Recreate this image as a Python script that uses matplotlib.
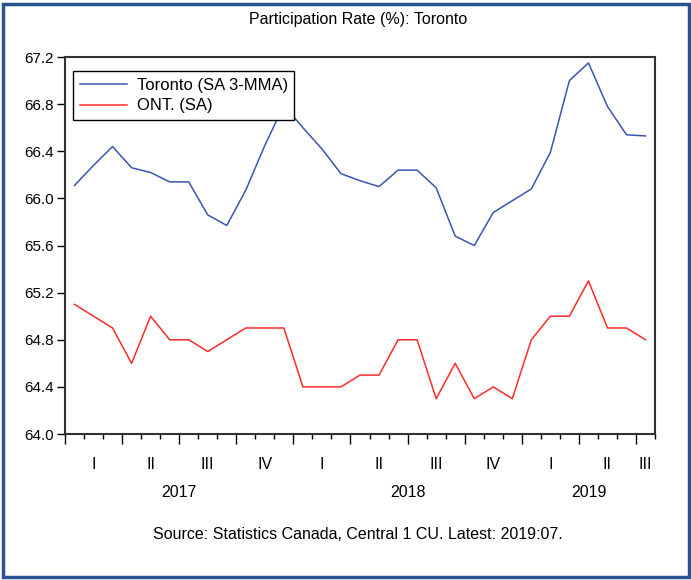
import matplotlib.pyplot as plt
from matplotlib.patches import Rectangle
from matplotlib.transforms import blended_transform_factory

plt.rcParams["font.family"] = ["Liberation Sans", "DejaVu Sans"]

# monthly data, 2017:01 .. 2019:07
toronto = [66.11, 66.28, 66.44, 66.26, 66.22, 66.14, 66.14, 65.86, 65.77, 66.07,
           66.45, 66.79, 66.60, 66.42, 66.21, 66.15, 66.10, 66.24, 66.24, 66.09,
           65.68, 65.60, 65.88, 65.98, 66.08, 66.39, 67.00, 67.15, 66.78, 66.54,
           66.53]
ontario = [65.1, 65.0, 64.9, 64.6, 65.0, 64.8, 64.8, 64.7, 64.8, 64.9,
           64.9, 64.9, 64.4, 64.4, 64.4, 64.5, 64.5, 64.8, 64.8, 64.3,
           64.6, 64.3, 64.4, 64.3, 64.8, 65.0, 65.0, 65.3, 64.9, 64.9,
           64.8]
quarters = ["I", "II", "III", "IV", "I", "II", "III", "IV", "I", "II", "III"]
years = ["2017", "2018", "2019"]
months_in_year = [12, 12, 7]

fig = plt.figure(figsize=(6.91, 5.8), dpi=100)
ax = fig.add_axes([0.094, 0.2517, 0.854, 0.65])

x = list(range(len(toronto)))
ax.plot(x, toronto, color="#3a55b0", lw=1.1, label="Toronto (SA 3-MMA)")
ax.plot(x, ontario, color="#ff2b2b", lw=1.1, label="ONT. (SA)")

n = len(toronto)
ax.set_xlim(-0.5, n - 0.5)
ax.set_ylim(64.0, 67.2)
ax.set_yticks([64.0, 64.4, 64.8, 65.2, 65.6, 66.0, 66.4, 66.8, 67.2])
ax.set_yticklabels(["%.1f" % v for v in ax.get_yticks()], fontsize=11)

ax.set_xticks([k - 0.5 for k in range(0, n + 1, 3)])
ax.set_xticks([k - 0.5 for k in range(n + 1)], minor=True)
ax.set_xticklabels([])
ax.tick_params(axis="x", which="major", length=7, width=1)
ax.tick_params(axis="x", which="minor", length=3.5, width=1)
ax.tick_params(axis="y", length=6, width=1, pad=2)
for s in ax.spines.values():
    s.set_color("#333333")
    s.set_linewidth(1.5)

tr = blended_transform_factory(ax.transData, ax.transAxes)
for i, q in enumerate(quarters):
    start = i * 3
    end = min(start + 3, n)
    ax.text((start + end - 1) / 2, -0.08, q, transform=tr, ha="center", va="center", fontsize=11.5)
start = 0
for y, m in zip(years, months_in_year):
    ax.text(start + (m - 1) / 2, -0.155, y, transform=tr, ha="center", va="center", fontsize=11.5)
    start += m

leg = ax.legend(loc="upper left", bbox_to_anchor=(0.014, 0.963), fontsize=12, frameon=True,
                fancybox=False, framealpha=1, edgecolor="black", borderpad=0.4,
                handlelength=2.8, handletextpad=0.6, labelspacing=0.35, borderaxespad=0.0)
leg.get_frame().set_linewidth(1.0)

fig.text(0.518, 0.966, "Participation Rate (%): Toronto", ha="center", va="center", fontsize=11.5)
fig.text(0.518, 0.078, "Source: Statistics Canada, Central 1 CU. Latest: 2019:07.",
         ha="center", va="center", fontsize=11.5)

fig.patches.append(Rectangle((0.004, 0.005), 0.993, 0.988, transform=fig.transFigure,
                             fill=False, edgecolor="#2a5291", lw=2.5))

fig.savefig("out.png", dpi=100)
